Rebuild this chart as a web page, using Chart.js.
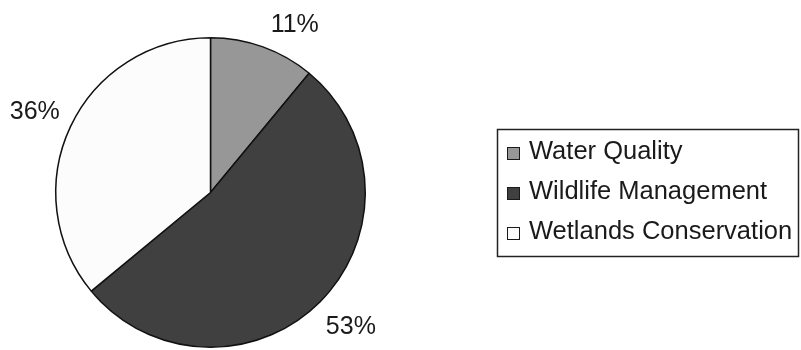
<!DOCTYPE html>
<html>
<head>
<meta charset="utf-8">
<script src="https://cdn.jsdelivr.net/npm/chart.js@4/dist/chart.umd.min.js"></script>
<style>
  html, body { margin: 0; padding: 0; background: #ffffff; }
  #wrap { width: 801px; height: 350px; }
</style>
</head>
<body>
<div id="wrap"><canvas id="c" width="801" height="350"></canvas></div>
<script>
// Share of projects by focus area (percent)
const categories = ['Water Quality', 'Wildlife Management', 'Wetlands Conservation'];
const shares = [11, 53, 36];
const sliceColors = ['#979797', '#404040', '#fcfcfc'];

const FONT = '"Liberation Sans", Arial, sans-serif';

// Percent labels placed just outside each slice, anchored by their nearest corner
const outsideLabels = {
  id: 'outsideLabels',
  afterDatasetsDraw(chart) {
    const ctx = chart.ctx;
    const meta = chart.getDatasetMeta(0);
    const values = chart.data.datasets[0].data;
    ctx.save();
    ctx.font = '25px ' + FONT;
    ctx.fillStyle = '#1a1a1a';
    meta.data.forEach((arc, i) => {
      const p = arc.getProps(['x', 'y', 'startAngle', 'endAngle', 'outerRadius'], true);
      const mid = (p.startAngle + p.endAngle) / 2;
      const d = p.outerRadius + 14;
      const ax = p.x + Math.cos(mid) * d;
      const ay = p.y + Math.sin(mid) * d;
      const upper = Math.sin(mid) < 0;
      const rightSide = Math.cos(mid) >= 0;
      ctx.textAlign = rightSide ? 'left' : 'right';
      ctx.textBaseline = upper ? 'bottom' : 'top';
      const dx = rightSide ? (upper ? 3 : -4) : 2;
      ctx.fillText(values[i] + '%', ax + dx, ay + (upper ? 4 : 3));
    });
    ctx.restore();
  }
};

// Boxed legend to the right of the pie
const boxedLegend = {
  id: 'boxedLegend',
  afterDraw(chart) {
    const ctx = chart.ctx;
    const ds = chart.data.datasets[0];
    const left = 497, top = 129, right = 798, bottom = 256;
    ctx.save();
    ctx.strokeStyle = '#222222';
    ctx.lineWidth = 1.5;
    ctx.strokeRect(left + 0.5, top + 0.5, right - left, bottom - top);
    ctx.font = '25.5px ' + FONT;
    ctx.textAlign = 'left';
    ctx.textBaseline = 'middle';
    chart.data.labels.forEach((label, i) => {
      const cy = 153 + i * 40;
      ctx.fillStyle = ds.backgroundColor[i];
      ctx.fillRect(507, cy - 6, 13, 13);
      ctx.strokeStyle = '#1a1a1a';
      ctx.lineWidth = 1;
      ctx.strokeRect(507.5, cy - 5.5, 12, 12);
      ctx.fillStyle = '#1a1a1a';
      ctx.fillText(label, 529, cy - 1);
    });
    ctx.restore();
  }
};

new Chart(document.getElementById('c'), {
  type: 'pie',
  data: {
    labels: categories,
    datasets: [{
      data: shares,
      backgroundColor: sliceColors,
      borderColor: '#111111',
      borderWidth: 1.5,
      hoverOffset: 0
    }]
  },
  options: {
    responsive: false,
    animation: false,
    events: [],
    layout: { padding: { top: 37, bottom: 2, left: 55, right: 435 } },
    plugins: {
      legend: { display: false },
      tooltip: { enabled: false }
    }
  },
  plugins: [
    { id: 'bg', beforeDraw(c) { c.ctx.save(); c.ctx.fillStyle = '#fff'; c.ctx.fillRect(0, 0, c.width, c.height); c.ctx.restore(); } },
    outsideLabels,
    boxedLegend
  ]
});
</script>
</body>
</html>
